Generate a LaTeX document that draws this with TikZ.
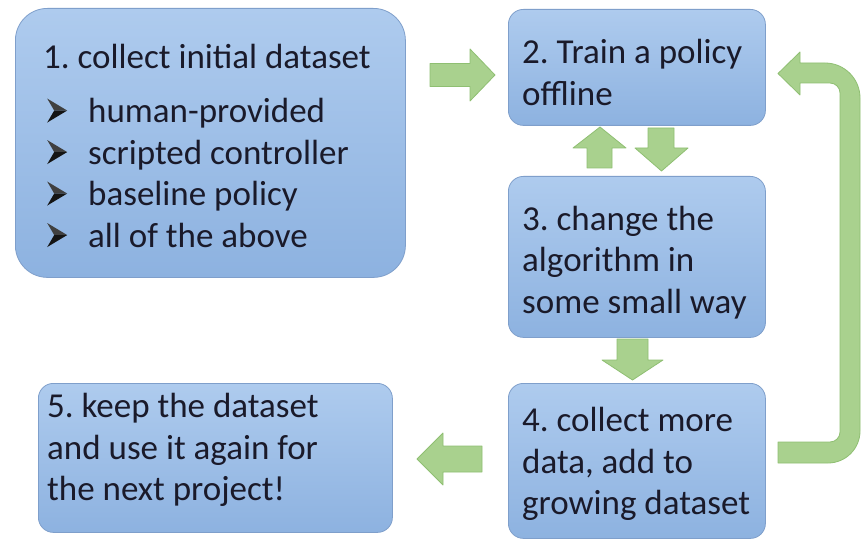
\documentclass[tikz,border=0pt]{standalone}
\usepackage{fontspec}
\setmainfont{Carlito}
\definecolor{boxtop}{HTML}{AECBEE}
\definecolor{boxbot}{HTML}{8DB2E0}
\definecolor{boxline}{HTML}{7F9FCB}
\definecolor{arrfill}{HTML}{A9D18E}
\definecolor{arrline}{HTML}{8FBF72}
\definecolor{txt}{HTML}{1A1A2A}
\newcommand{\mybul}{\makebox[45pt][l]{\hspace{4pt}\tikz[baseline=0pt,x=1pt,y=1pt]{%
  \fill[black!75] (0,24) -- (20,12) -- (7,12) -- cycle;
  \fill[black!92] (7,12) -- (20,12) -- (0,0) -- cycle;}}}
\frenchspacing
\begin{document}
\begin{tikzpicture}[x=1pt,y=1pt,
  stepbox/.style={draw=boxline, line width=0.8pt, top color=boxtop, bottom color=boxbot,
    rounded corners=15pt, anchor=north west, inner sep=0pt},
  lbl/.style={anchor=west, align=left, inner sep=0pt, text depth=0pt,
    font=\fontsize{35}{41.5}\selectfont, text=txt},
  blockarrow/.style={fill=arrfill, draw=arrline, line width=0.8pt, line join=round}]
\useasboundingbox (0,0) rectangle (861,-540);
\fill[white] (0,0) rectangle (861,-540);
% boxes
\node[stepbox, rounded corners=32pt, minimum width=390pt, minimum height=269pt] (s1) at (15,-8) {};
\node[stepbox, minimum width=257pt, minimum height=116pt] (s2) at (508,-9) {};
\node[stepbox, minimum width=257pt, minimum height=161pt] (s3) at (508,-176) {};
\node[stepbox, minimum width=257pt, minimum height=155pt] (s4) at (508,-383) {};
\node[stepbox, minimum width=354pt, minimum height=149pt] (s5) at (38,-383) {};
% texts
\node[lbl] (t1) at ([xshift=28pt,yshift=-2.5pt]s1.west)
  {1. collect initial dataset\\[13pt]\mybul human-provided\\\mybul scripted controller\\\mybul baseline policy\\\mybul all of the above};
\node[lbl] (t2) at ([xshift=14pt,yshift=-5pt]s2.west) {2. Train a policy\\offline};
\node[lbl] (t3) at ([xshift=14pt,yshift=-2.5pt]s3.west) {3. change the\\algorithm in\\some small way};
\node[lbl] (t4) at ([xshift=14pt]s4.west) {4. collect more\\data, add to\\growing dataset};
\node[lbl] (t5) at ([xshift=9pt,yshift=11pt]s5.west) {5. keep the dataset\\and use it again for\\the next project!};
% 1 -> 2
\draw[blockarrow] (430,-63.5) -- (470,-63.5) -- (470,-49) -- (495,-75) -- (470,-101) -- (470,-86.5) -- (430,-86.5) -- cycle;
% 3 -> 2 (up)
\draw[blockarrow] (587,-168) -- (587,-148) -- (573,-148) -- (600,-127) -- (626,-148) -- (612,-148) -- (612,-168) -- cycle;
% 2 -> 3 (down)
\draw[blockarrow] (648,-128) -- (648,-148) -- (635,-148) -- (661.5,-171) -- (688,-148) -- (674,-148) -- (674,-128) -- cycle;
% 3 -> 4
\draw[blockarrow] (617,-339) -- (617,-360) -- (602,-360) -- (632.5,-380) -- (663,-360) -- (648,-360) -- (648,-339) -- cycle;
% 4 -> 5
\draw[blockarrow] (482,-446) -- (443,-446) -- (443,-433) -- (417,-459) -- (443,-485) -- (443,-472) -- (482,-472) -- cycle;
% 4 -> 2 (return)
\draw[blockarrow] (778,-463) -- (828,-463) arc[start angle=-90, end angle=0, radius=32]
  -- (860,-98) arc[start angle=0, end angle=90, radius=35]
  -- (800,-63) -- (800,-52) -- (778,-73.5) -- (800,-95) -- (800,-83)
  -- (830,-83) arc[start angle=90, end angle=0, radius=10]
  -- (840,-432) arc[start angle=0, end angle=-90, radius=10]
  -- (778,-442) -- cycle;
\end{tikzpicture}
\end{document}
